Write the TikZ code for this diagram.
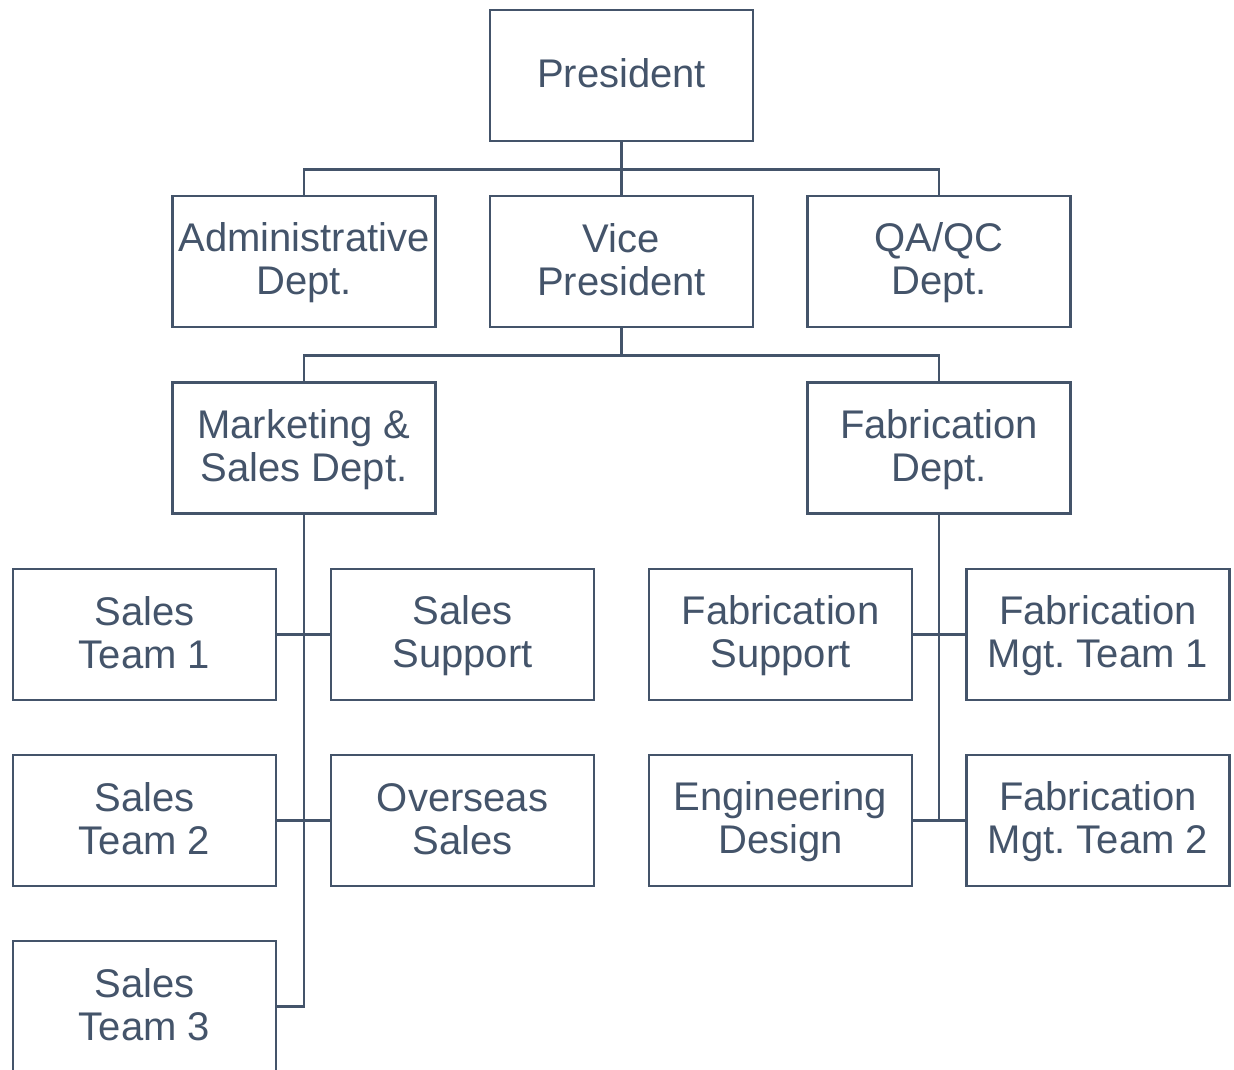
\documentclass[tikz,border=0pt]{standalone}
\usepackage{fontspec}
\setmainfont{Liberation Sans}
\frenchspacing
\definecolor{slate}{HTML}{44546A}
\newcommand{\ms}{\rule[-8pt]{0pt}{40pt}}
\begin{document}
\begin{tikzpicture}[x=1pt,y=-1pt,
  box/.style={draw=slate, line width=2.5pt, rectangle, minimum width=263pt, minimum height=131pt,
    inner sep=0pt, align=center, text=slate, font=\fontsize{40}{43}\selectfont},
  conn/.style={draw=slate, line width=2.5pt}]
\useasboundingbox (0,0) rectangle (1234,1070);
\clip (0,0) rectangle (1234,1070);
\node[box] (pres) at (621.5,75.5) {\ms President};
\node[box] (adm) at (304,261.5) {\ms Administrative\\\ms Dept.};
\node[box] (vp) at (621.5,261.5) {\ms Vice\\\ms President};
\node[box] (qa) at (939,261.5) {\ms QA/QC\\\ms Dept.};
\node[box] (mkt) at (304,448) {\ms Marketing \&\\\ms Sales Dept.};
\node[box] (fab) at (939,448) {\ms Fabrication\\\ms Dept.};
\node[box] (st1) at (144.5,634.5) {\ms Sales\\\ms Team 1};
\node[box] (ss) at (462.5,634.5) {\ms Sales\\\ms Support};
\node[box] (fs) at (780.5,634.5) {\ms Fabrication\\\ms Support};
\node[box] (fm1) at (1098,634.5) {\ms Fabrication\\\ms Mgt. Team 1};
\node[box] (st2) at (144.5,820.5) {\ms Sales\\\ms Team 2};
\node[box] (os) at (462.5,820.5) {\ms Overseas\\\ms Sales};
\node[box] (ed) at (780.5,820.5) {\ms Engineering\\\ms Design};
\node[box] (fm2) at (1098,820.5) {\ms Fabrication\\\ms Mgt. Team 2};
\node[box] (st3) at (144.5,1006.5) {\ms Sales\\\ms Team 3};
\coordinate (mktend) at (304,1006.5);
\coordinate (fabend) at (939,820.5);
\draw[conn] (pres.south) -- (vp.north);
\draw[conn] (pres.south) -- ++(0,27) -| (adm.north);
\draw[conn] (pres.south) -- ++(0,27) -| (qa.north);
\draw[conn] (vp.south) -- ++(0,27) -| (mkt.north);
\draw[conn] (vp.south) -- ++(0,27) -| (fab.north);
\draw[conn] (mkt.south) -- (mktend) -- (st3.east);
\draw[conn] (st1.east) -- (ss.west);
\draw[conn] (st2.east) -- (os.west);
\draw[conn] (fab.south) -- (fabend);
\draw[conn] (fs.east) -- (fm1.west);
\draw[conn] (ed.east) -- (fm2.west);
\end{tikzpicture}
\end{document}
